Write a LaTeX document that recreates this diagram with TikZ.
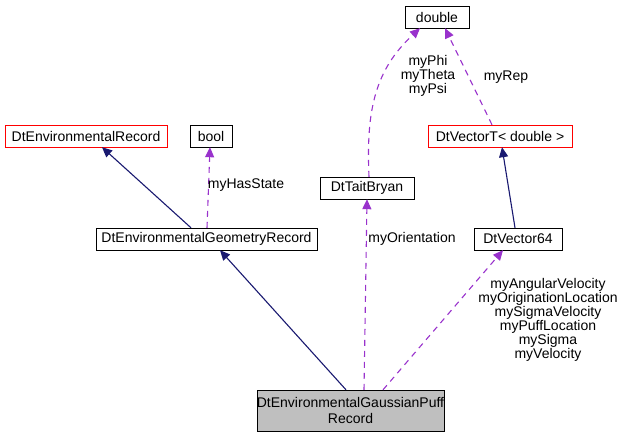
\documentclass[tikz,border=0pt]{standalone}
\usepackage{fontspec}
\setmainfont{Liberation Sans}
\usetikzlibrary{arrows.meta}
\begin{document}
\begin{tikzpicture}[x=1pt,y=-1pt,
  box/.style={draw=black,fill=white,inner sep=0,minimum height=22,font=\fontsize{14}{16}\selectfont},
  redbox/.style={box,draw=red},
  inh/.style={draw={rgb,255:red,25;green,25;blue,112},-{Triangle[length=10,width=9]},line width=1.1},
  use/.style={draw={rgb,255:red,153;green,50;blue,204},dash pattern=on 6 off 5,-{Triangle[length=10,width=9]},line width=1.1},
  lab/.style={font=\fontsize{14}{13}\selectfont,align=center,inner sep=0}]
\useasboundingbox (0,0) rectangle (620,437);
\node[box,minimum width=64] (dbl) at (437,17) {double};
\node[redbox,minimum width=162] (er) at (86,136) {DtEnvironmentalRecord};
\node[box,minimum width=42] (bool) at (211,136) {bool};
\node[redbox,minimum width=144] (vt) at (500,136) {DtVectorT< double >};
\node[box,minimum width=94] (tb) at (367,188) {DtTaitBryan};
\node[box,minimum width=221] (geo) at (206.5,239) {DtEnvironmentalGeometryRecord};
\node[box,minimum width=88] (v64) at (518,239) {DtVector64};
\node[box,fill={rgb,255:red,191;green,191;blue,191},minimum width=173,minimum height=41,align=center] (gp) at (350.5,410.5) {DtEnvironmentalGaussianPuff\\Record};
\draw[inh] (geo.north -| 191,0) -- (er.south -| 102,0);
\draw[use] (geo.north -| 207,0) -- (bool.south -| 210,0);
\draw[inh] (gp.north -| 346,0) -- (geo.south -| 220,0);
\draw[use] (gp.north -| 364,0) -- (tb.south -| 367,0);
\draw[use] (gp.north -| 383,0) -- (v64.south -| 503,0);
\draw[inh] (v64.north -| 515,0) -- (vt.south -| 502,0);
\draw[use] (tb.north -| 369,0) .. controls (366,110) and (375,70) .. (dbl.south -| 420,0);
\draw[use] (vt.north -| 492,0) -- (dbl.south -| 445,0);
\node[lab] (l1) at (246,185) {myHasState};
\node[lab] (l2) at (412,239) {myOrientation};
\node[lab] (l3) at (548,320) {myAngularVelocity\\myOriginationLocation\\mySigmaVelocity\\myPuffLocation\\mySigma\\myVelocity};
\node[lab] (l4) at (428,76) {myPhi\\myTheta\\myPsi};
\node[lab] (l5) at (506,77) {myRep};
\end{tikzpicture}
\end{document}
